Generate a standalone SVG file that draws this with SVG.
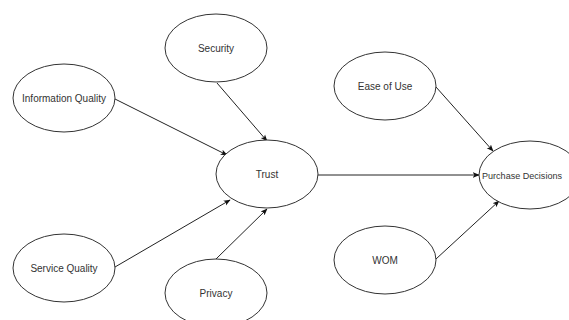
<svg xmlns="http://www.w3.org/2000/svg" width="569" height="320" viewBox="0 0 569 320">
<style>
.n ellipse{fill:#fff;stroke:#333;stroke-width:1}
.n text{font-family:"Liberation Sans",Arial,sans-serif;font-size:10px;fill:#333;text-anchor:middle;dominant-baseline:central}
.e path{fill:none;stroke:#222;stroke-width:1;marker-end:url(#a)}
</style>
<defs>
<marker id="a" viewBox="0 0 10 10" refX="9" refY="5" markerWidth="7" markerHeight="7" markerUnits="userSpaceOnUse" orient="auto">
<path d="M0,1 L10,5 L0,9 L2.5,5 Z" fill="#111"/>
</marker>
</defs>
<rect width="569" height="320" fill="#fff"/>
<g class="e">
<path d="M115,99 L227,155"/>
<path d="M217,83 L267,141"/>
<path d="M115,267 L230,200"/>
<path d="M216,259 L267,209"/>
<path d="M318,175 L479,175"/>
<path d="M436,87 L493,151"/>
<path d="M436,259 L499,201"/>
</g>
<g class="n" id="security"><ellipse cx="216" cy="48" rx="51" ry="34"/><text x="216" y="48">Security</text></g>
<g class="n" id="infoq"><ellipse cx="64" cy="98" rx="51" ry="34"/><text x="64" y="98">Information Quality</text></g>
<g class="n" id="trust"><ellipse cx="267" cy="174" rx="51" ry="34"/><text x="267" y="174">Trust</text></g>
<g class="n" id="serviceq"><ellipse cx="64" cy="268" rx="51" ry="34"/><text x="64" y="268">Service Quality</text></g>
<g class="n" id="privacy"><ellipse cx="216" cy="293" rx="51" ry="34"/><text x="216" y="293">Privacy</text></g>
<g class="n" id="ease"><ellipse cx="385" cy="86" rx="51" ry="34"/><text x="385" y="86">Ease of Use</text></g>
<g class="n" id="purchase"><ellipse cx="530" cy="175" rx="51" ry="34"/><text x="482" y="175" style="text-anchor:start;font-size:9.5px" textLength="80" lengthAdjust="spacingAndGlyphs">Purchase Decisions</text></g>
<g class="n" id="wom"><ellipse cx="385" cy="260" rx="51" ry="34"/><text x="385" y="260">WOM</text></g>
</svg>
